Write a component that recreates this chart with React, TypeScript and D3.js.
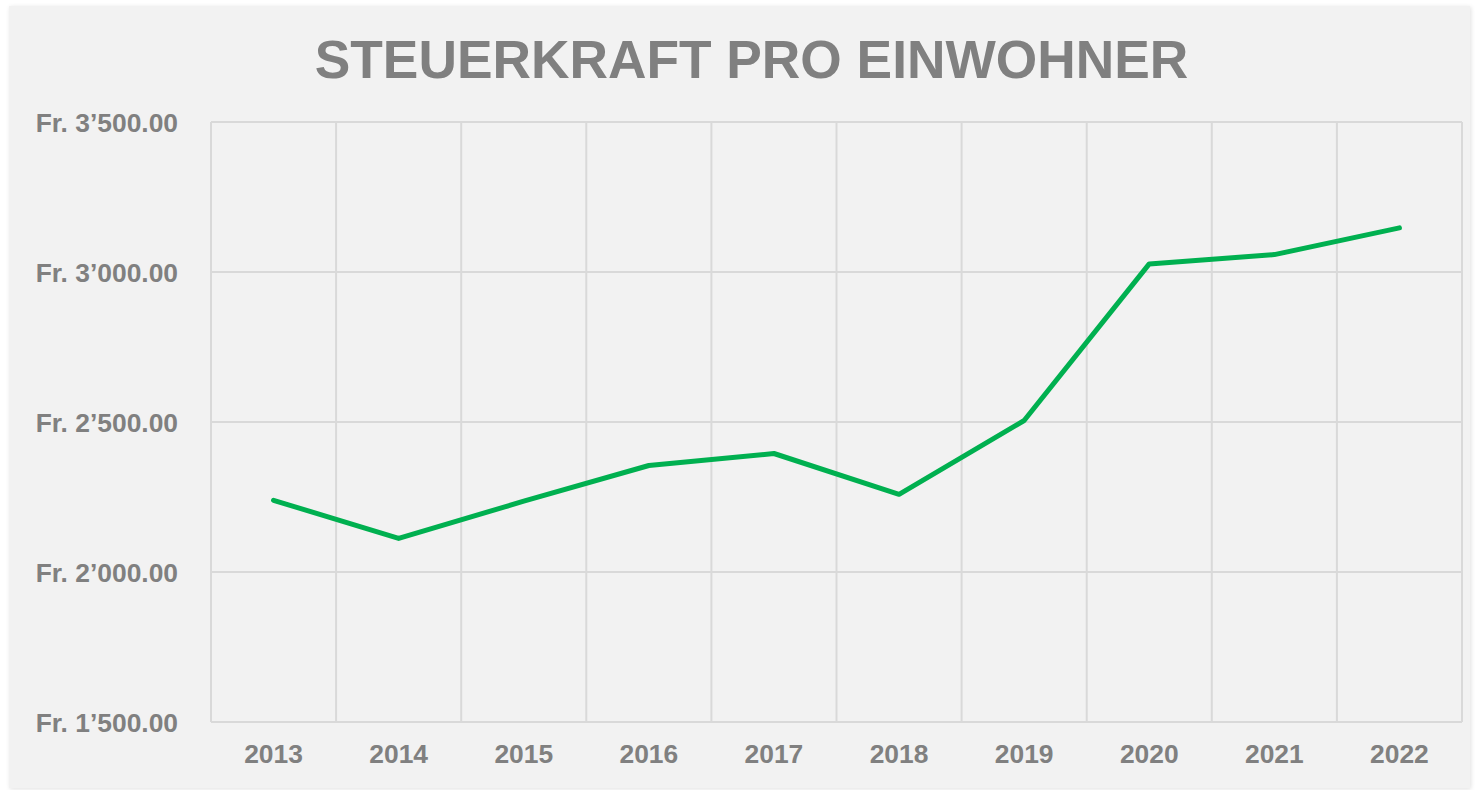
import React from "react";
import * as d3 from "d3";

const years = ["2013", "2014", "2015", "2016", "2017", "2018", "2019", "2020", "2021", "2022"];
const steuerkraft = [2239, 2112, 2236, 2355, 2395, 2259, 2505, 3027, 3058, 3147];
const yTicks = [1500, 2000, 2500, 3000, 3500];
const title = "STEUERKRAFT PRO EINWOHNER";

const W = 1476;
const H = 790;
const plot = { left: 211, right: 1462, top: 122, bottom: 722 };
const grey = "#808080";
const grid = "#d9d9d9";
const font = "'Liberation Sans', Arial, sans-serif";

const fmt = (v: number) => {
  const s = d3.format(".2f")(v);
  const [i, dec] = s.split(".");
  const withSep = i.replace(/\B(?=(\d{3})+(?!\d))/g, "\u2019");
  return `Fr. ${withSep}.${dec}`;
};

export default function App() {
  const x = d3.scaleBand<string>().domain(years).range([plot.left, plot.right]).padding(0);
  const y = d3.scaleLinear().domain([1500, 3500]).range([plot.bottom, plot.top]);
  const line = d3
    .line<number>()
    .x((_, i) => (x(years[i]) as number) + x.bandwidth() / 2)
    .y((d) => y(d));

  const boundaries = [...years.map((yr) => x(yr) as number), plot.right];

  return (
    <svg
      width={W}
      height={H}
      style={{ position: "absolute", left: 0, top: 0, background: "#ffffff" }}
      fontFamily={font}
    >
      <defs>
        <filter id="sh" x="-2%" y="-2%" width="104%" height="104%">
          <feDropShadow dx="1" dy="1" stdDeviation="2" floodColor="#000" floodOpacity="0.12" />
        </filter>
      </defs>
      <rect x={9} y={6} width={1461} height={782} fill="#f2f2f2" filter="url(#sh)" />
      <text
        x={751.5}
        y={78}
        textAnchor="middle"
        fontSize={53.3}
        fontWeight="bold"
        fill={grey}
      >
        {title}
      </text>
      {yTicks.map((t) => (
        <g key={t}>
          <line x1={plot.left} x2={plot.right} y1={y(t)} y2={y(t)} stroke={grid} strokeWidth={2} />
          <text
            x={178}
            y={y(t)}
            dy="0.36em"
            textAnchor="end"
            fontSize={26.4}
            fontWeight="bold"
            fill={grey}
          >
            {fmt(t)}
          </text>
        </g>
      ))}
      {boundaries.map((bx, i) => (
        <line key={i} x1={bx} x2={bx} y1={plot.top} y2={plot.bottom} stroke={grid} strokeWidth={2} />
      ))}
      {years.map((yr) => (
        <text
          key={yr}
          x={(x(yr) as number) + x.bandwidth() / 2}
          y={763}
          textAnchor="middle"
          fontSize={26.4}
          fontWeight="bold"
          fill={grey}
        >
          {yr}
        </text>
      ))}
      <path
        d={line(steuerkraft) || ""}
        fill="none"
        stroke="#00b050"
        strokeWidth={5}
        strokeLinecap="round"
        strokeLinejoin="round"
      />
    </svg>
  );
}
